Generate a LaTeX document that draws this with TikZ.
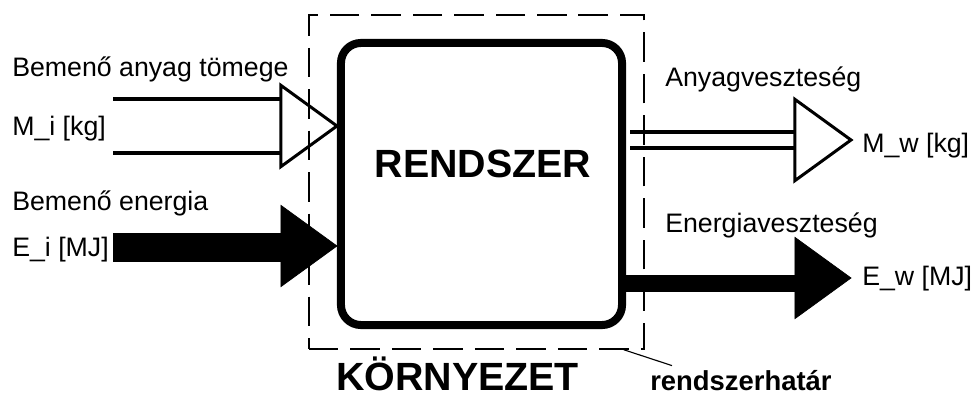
\documentclass[tikz,border=0pt]{standalone}
\usepackage{fontspec}
\setmainfont{Liberation Sans}
\usetikzlibrary{shapes.geometric}
\tikzset{
  rendszerdoboz/.style={rectangle, draw, line width=0.2cm, rounded corners=0.5cm,
    minimum width=7.025cm, minimum height=7.05cm, inner sep=0pt},
  hatarvonal/.style={rectangle, draw, line width=1pt, dash pattern=on 21pt off 8.5pt,
    minimum width=8.375cm, minimum height=8.35cm, inner sep=0pt},
  nyilhegy/.style={isosceles triangle, isosceles triangle stretches, draw,
    line width=0.075cm, minimum width=2.03cm, minimum height=1.4cm,
    inner sep=0pt, outer sep=0pt, anchor=apex},
  nyitott/.style={nyilhegy},
  teli/.style={nyilhegy, fill=black, line width=0.5pt},
  cso/.style={line width=0.09cm},
  sav/.style={line width=#1},
  felirat/.style={font=\fontsize{19}{22}\selectfont, anchor=base west, inner sep=0pt},
  cim/.style={font=\fontsize{28}{32}\selectfont\bfseries, inner sep=0pt},
}

\begin{document}
\begin{tikzpicture}[x=0.025cm, y=-0.025cm]
  \useasboundingbox (0,0) rectangle (974,398);

  % rendszerhatar
  \node[hatarvonal] (hatar) at (476.5,182) {};

  % rendszer
  \node[rendszerdoboz] (rendszer) at (481.5,184) {};
  \node[cim] (rendszernev) at (483,164) {RENDSZER};

  % bemeno anyag
  \node[felirat] (anyagbe) at (12,77) {Bemenő anyag tömege};
  \node[felirat] (mi) at (12,136) {M\_i [kg]};
  \coordinate (mifent) at (113,99);
  \coordinate (milent) at (113,153);
  \node[nyitott] (mihegy) at (rendszer.west |- 0,126) {};
  \draw[cso] (mifent) -- (mifent -| mihegy.west);
  \draw[cso] (milent) -- (milent -| mihegy.west);

  % bemeno energia
  \node[felirat] (energiabe) at (12,211) {Bemenő energia};
  \node[felirat] (ei) at (12,257) {E\_i [MJ]};
  \coordinate (eiveg) at (113,247.5);
  \node[teli] (eihegy) at (rendszer.west |- 0,246) {};
  \draw[sav=0.725cm] (eiveg) -- (eiveg -| eihegy.west);

  % anyagveszteseg
  \node[felirat] (anyagki) at (665,87) {Anyagveszteség};
  \node[felirat] (mw) at (862,153) {M\_w [kg]};
  \coordinate (mwfent) at (630,132);
  \coordinate (mwlent) at (630,148);
  \node[nyitott] (mwhegy) at (851,140) {};
  \draw[cso] (mwfent) -- (mwfent -| mwhegy.west);
  \draw[cso] (mwlent) -- (mwlent -| mwhegy.west);

  % energiaveszteseg
  \node[felirat] (energiaki) at (665,233) {Energiaveszteség};
  \node[felirat] (ew) at (862,286) {E\_w [MJ]};
  \coordinate (ewveg) at (622,283.5);
  \node[teli] (ewhegy) at (851,278) {};
  \draw[sav=0.425cm] (ewveg) -- (ewveg -| ewhegy.west);

  % kornyezet
  \node[cim, anchor=base] (kornyezet) at (457.5,391) {KÖRNYEZET};
  \node[felirat, font=\fontsize{19.5}{22}\selectfont\bfseries] (hatarnev) at (650,391) {rendszerhatár};
  \draw[line width=0.8pt] ([xshift=-0.525cm]hatar.south east) -- ([xshift=0.55cm, yshift=0.125cm]hatarnev.north west);
\end{tikzpicture}
\end{document}
